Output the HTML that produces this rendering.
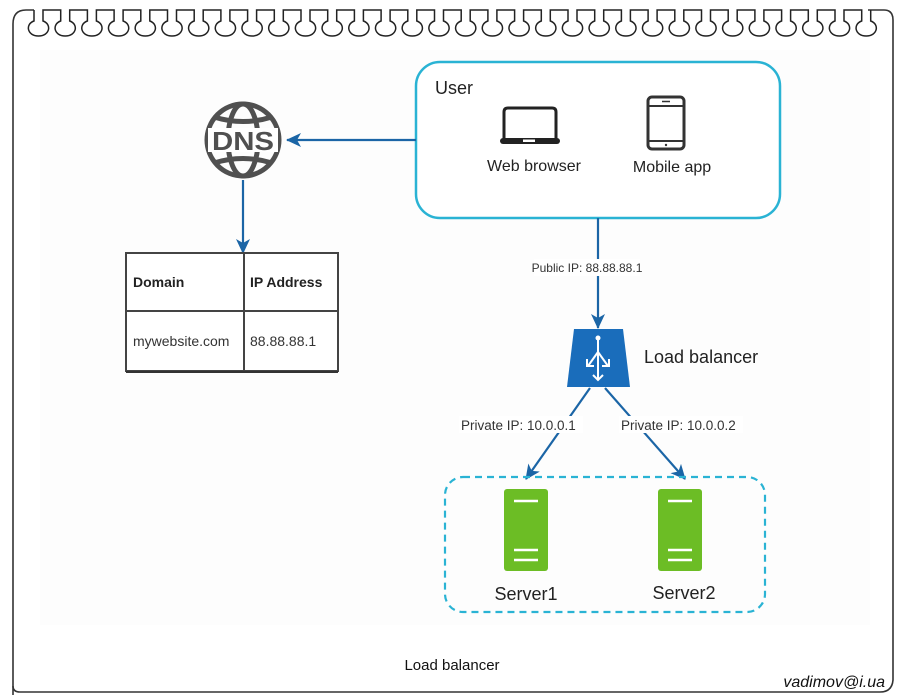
<!DOCTYPE html>
<html><head><meta charset="utf-8"><style>
html,body{margin:0;padding:0;background:#fff;}
svg{display:block;font-family:"Liberation Sans",Arial,sans-serif;}
</style></head><body>
<svg width="900" height="700" viewBox="0 0 900 700" xmlns="http://www.w3.org/2000/svg">
<defs>
<marker id="ah" markerWidth="16" markerHeight="14" refX="14" refY="7" orient="auto" markerUnits="userSpaceOnUse">
<path d="M0,0 L15,7 L0,14 L4,7 Z" fill="#1b65a6"/></marker>
</defs>
<rect width="900" height="700" fill="#fff"/>
<rect x="40" y="50" width="830" height="575" fill="#fdfdfd"/>
<!-- frame -->
<path d="M13,695 L13,24 Q13,10 26,10 L34,10" fill="none" stroke="#333" stroke-width="1.6"/>
<path d="M868,10 L884,10 Q893,10 893,20 L893,680 Q892,692 880,692 L20,692 Q13,692 13,686" fill="none" stroke="#333" stroke-width="1.6"/>
<g fill="none" stroke="#222" stroke-width="1.5" id="loops"></g>
<script>
(function(){var g=document.getElementById('loops');var d='';
for(var i=0;i<32;i++){var x=34+i*26.7;var r=x+9;
d+=(i==0?'M':'L')+x+',10 L'+x+',21 C'+(x-9)+',24 '+(x-7)+',36 '+(x+4.5)+',36 C'+(r+7)+',36 '+(r+9)+',24 '+r+',21 L'+r+',10 ';}
var p=document.createElementNS('http://www.w3.org/2000/svg','path');p.setAttribute('d',d);g.appendChild(p);})();
</script>

<!-- user box -->
<rect x="416" y="62" width="364" height="156" rx="24" fill="#fff" stroke="#2ab3d4" stroke-width="2.5"/>
<text x="435" y="94" font-size="18" fill="#222">User</text>
<path d="M504,140 L504,112 Q504,108 508,108 L552,108 Q556,108 556,112 L556,140" fill="none" stroke="#222" stroke-width="3"/>
<rect x="500" y="138" width="60" height="6" rx="3" fill="#222"/>
<rect x="523" y="139.5" width="12" height="2.5" fill="#fff"/>
<text x="534" y="171" font-size="16" fill="#222" text-anchor="middle">Web browser</text>
<rect x="648" y="97" width="36" height="52" rx="4" fill="none" stroke="#333" stroke-width="3"/>
<line x1="648" y1="106" x2="684" y2="106" stroke="#333" stroke-width="2"/>
<line x1="648" y1="141" x2="684" y2="141" stroke="#333" stroke-width="2"/>
<line x1="662" y1="101.5" x2="670" y2="101.5" stroke="#333" stroke-width="1.5"/>
<circle cx="666" cy="145" r="1.2" fill="#333"/>
<text x="672" y="172" font-size="16" fill="#222" text-anchor="middle">Mobile app</text>

<!-- DNS -->
<g fill="none" stroke="#505050" stroke-width="5">
<circle cx="243" cy="140" r="36"/>
<ellipse cx="243" cy="140" rx="15" ry="36"/>
<path d="M214,117 Q243,126 272,117"/>
<path d="M214,163 Q243,154 272,163"/>
</g>
<rect x="208" y="128" width="70" height="24" fill="#fff"/>
<text x="243" y="150" font-size="26" font-weight="bold" fill="#505050" text-anchor="middle" textLength="62" lengthAdjust="spacingAndGlyphs">DNS</text>
<line x1="416" y1="140" x2="287" y2="140" stroke="#1b65a6" stroke-width="2.2" marker-end="url(#ah)"/>
<line x1="243" y1="180" x2="243" y2="253" stroke="#1b65a6" stroke-width="2.2" marker-end="url(#ah)"/>

<!-- table -->
<rect x="126" y="253" width="212" height="118" fill="#fff" stroke="#444" stroke-width="2"/>
<line x1="126" y1="372" x2="338" y2="372" stroke="#333" stroke-width="2"/>
<line x1="244" y1="253" x2="244" y2="371" stroke="#444" stroke-width="2"/>
<line x1="126" y1="311" x2="338" y2="311" stroke="#444" stroke-width="2"/>
<text x="133" y="287" font-size="14" font-weight="bold" fill="#222">Domain</text>
<text x="250" y="287" font-size="14" font-weight="bold" fill="#222">IP Address</text>
<text x="133" y="346" font-size="14" fill="#333">mywebsite.com</text>
<text x="250" y="346" font-size="14" fill="#333">88.88.88.1</text>

<!-- public ip -->
<line x1="598" y1="218" x2="598" y2="328" stroke="#1b65a6" stroke-width="2.2" marker-end="url(#ah)"/>
<rect x="534" y="259" width="106" height="17" fill="#fff"/>
<text x="587" y="272" font-size="12" fill="#333" text-anchor="middle">Public IP: 88.88.88.1</text>

<!-- LB -->
<path d="M574,329 L623,329 L630,387 L567,387 Z" fill="#1a6dbb"/>
<g stroke="#fff" stroke-width="2" fill="none">
<line x1="598" y1="338" x2="598" y2="380"/>
<line x1="598" y1="352" x2="588" y2="366"/>
<line x1="598" y1="352" x2="608" y2="366"/>
<path d="M587,359 L587,366 L594,366"/>
<path d="M609,359 L609,366 L602,366"/>
<path d="M593,375 L598,380 L603,375"/>
</g>
<circle cx="598" cy="338" r="2.5" fill="#fff"/>
<text x="644" y="363" font-size="18" fill="#222">Load balancer</text>

<line x1="590" y1="388" x2="526" y2="479" stroke="#1b65a6" stroke-width="2.2" marker-end="url(#ah)"/>
<line x1="605" y1="388" x2="685" y2="479" stroke="#1b65a6" stroke-width="2.2" marker-end="url(#ah)"/>
<rect x="459" y="416" width="124" height="17" fill="#fff"/>
<rect x="619" y="416" width="124" height="17" fill="#fff"/>
<text x="461" y="430" font-size="13.5" fill="#333">Private IP: 10.0.0.1</text>
<text x="621" y="430" font-size="13.5" fill="#333">Private IP: 10.0.0.2</text>

<!-- servers -->
<rect x="445" y="477" width="320" height="135" rx="18" fill="none" stroke="#2ab3d4" stroke-width="2.2" stroke-dasharray="7,5"/>
<rect x="504" y="489" width="44" height="82" rx="3" fill="#6cbd25"/>
<rect x="658" y="489" width="44" height="82" rx="3" fill="#6cbd25"/>
<g stroke="#fff" stroke-width="2.5">
<line x1="514" y1="501" x2="538" y2="501"/><line x1="514" y1="550" x2="538" y2="550"/><line x1="514" y1="560" x2="538" y2="560"/>
<line x1="668" y1="501" x2="692" y2="501"/><line x1="668" y1="550" x2="692" y2="550"/><line x1="668" y1="560" x2="692" y2="560"/>
</g>
<text x="526" y="600" font-size="18" fill="#222" text-anchor="middle">Server1</text>
<text x="684" y="599" font-size="18" fill="#222" text-anchor="middle">Server2</text>

<text x="452" y="670" font-size="15" fill="#111" text-anchor="middle">Load balancer</text>
<text x="885" y="687" font-size="16" font-style="italic" fill="#111" text-anchor="end">vadimov@i.ua</text>
</svg>
</body></html>
